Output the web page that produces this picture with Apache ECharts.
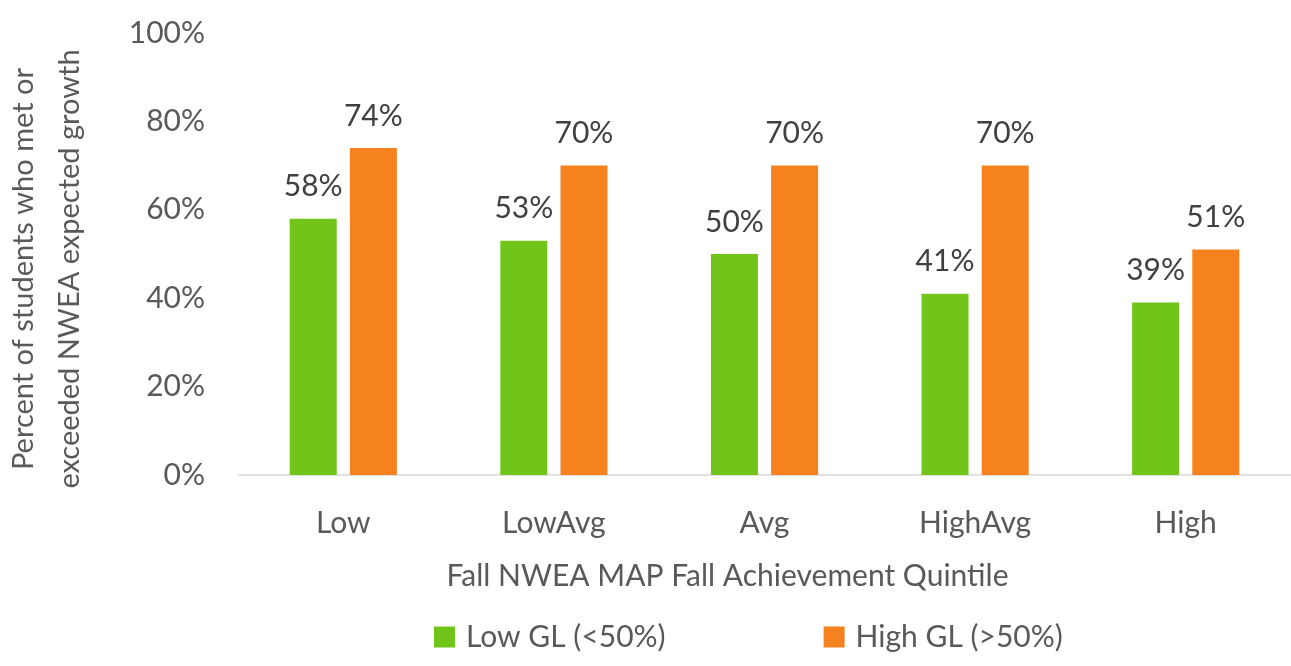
<!DOCTYPE html>
<html><head><meta charset="utf-8">
<script src="https://cdn.jsdelivr.net/npm/echarts@6/dist/echarts.min.js"></script>
<style>html,body{margin:0;padding:0;background:#fff}#c{width:1291px;height:666px}</style>
</head><body><div id="c"></div>
<script>
const categories = ['Low','LowAvg','Avg','HighAvg','High'];
const lowGL = [58,53,50,41,39];
const highGL = [74,70,70,70,51];
const seriesNames = ['Low GL (<50%)','High GL (>50%)'];
const yTicks = [0,20,40,60,80,100];

const FONT = 'Lato';
const TXT = '#595959';
const chart = echarts.init(document.getElementById('c'));
chart.setOption({
  animation:false,
  textStyle:{fontFamily:FONT},
  grid:{left:238,right:0,top:33,bottom:191,containLabel:false,outerBoundsMode:'none'},
  legend:{
    top:617,left:429,itemWidth:21,itemHeight:21,itemGap:158,
    icon:'rect',
    textStyle:{fontFamily:FONT,fontSize:30,color:TXT,padding:[0,0,0,6]},
    data:seriesNames
  },
  xAxis:{
    type:'category',data:categories,
    axisLine:{lineStyle:{color:'#d9d9d9',width:1.5}},
    axisTick:{show:false},
    axisLabel:{fontFamily:FONT,fontSize:30,color:TXT,margin:33},
    name:'Fall NWEA MAP Fall Achievement Quintile',
    nameLocation:'middle',nameGap:86,
    nameTextStyle:{fontFamily:FONT,fontSize:30,color:TXT,padding:[0,74,0,0]}
  },
  yAxis:{
    type:'value',min:0,max:100,interval:20,
    splitLine:{show:false},
    axisLine:{show:false},axisTick:{show:false},
    axisLabel:{fontFamily:FONT,fontSize:30,color:TXT,margin:33,
      formatter:v=>yTicks.includes(v)?v+'%':''},
    name:'Percent of students who met or\nexceeded NWEA expected growth',
    nameLocation:'middle',nameRotate:90,nameGap:145,
    nameTextStyle:{fontFamily:FONT,fontSize:29,color:TXT,lineHeight:46,align:'center',padding:[0,30,0,0]}
  },
  series:[
    {name:seriesNames[0],type:'bar',data:lowGL,barWidth:47,barGap:'28%',
     itemStyle:{color:'#70c41a'},
     label:{show:true,position:'top',distance:17,formatter:'{c}%',fontFamily:FONT,fontSize:30,color:'#404040'}},
    {name:seriesNames[1],type:'bar',data:highGL,barWidth:47,
     itemStyle:{color:'#f5821f'},
     label:{show:true,position:'top',distance:17,formatter:'{c}%',fontFamily:FONT,fontSize:30,color:'#404040'}}
  ]
});
</script></body></html>
